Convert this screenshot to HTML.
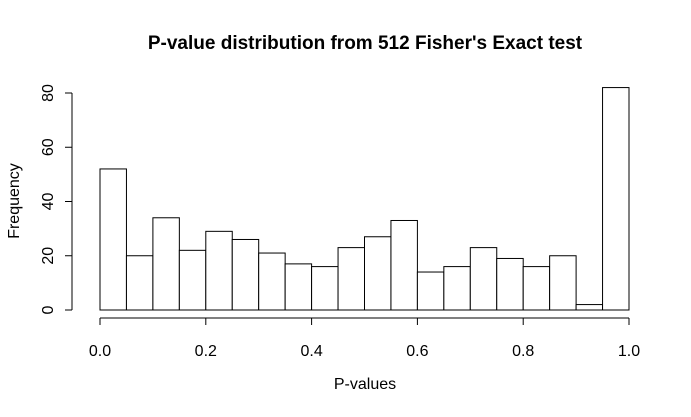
<!DOCTYPE html>
<html><head><meta charset="utf-8"><style>
body{margin:0;background:#fff}
svg{display:block;font-family:"Liberation Sans",Arial,sans-serif}
</style></head><body>
<svg id="chart" width="691" height="417">
<text x="365" y="49" text-anchor="middle" font-size="19" font-weight="bold">P-value distribution from 512 Fisher's Exact test</text>
<text x="365" y="389" text-anchor="middle" font-size="16">P-values</text>
<text transform="translate(19,201) rotate(-90)" text-anchor="middle" font-size="16">Frequency</text>
<g id="bars"></g>
<g id="xaxis"></g>
<g id="yaxis"></g>
</svg>
<script>
const counts = [52,20,34,22,29,26,21,17,16,23,27,33,14,16,23,19,16,20,2,82];
const binStart = 0, binWidth = 0.05;
const xTicks = [0,0.2,0.4,0.6,0.8,1.0];
const xTickLabels = ["0.0","0.2","0.4","0.6","0.8","1.0"];
const yTicks = [0,20,40,60,80];
const yTickLabels = ["0","20","40","60","80"];
const NS="http://www.w3.org/2000/svg";
const X=v=>100+v*529, Y=v=>310-v*(217/80);
function mk(t,a,p){const e=document.createElementNS(NS,t);for(const k in a)e.setAttribute(k,a[k]);p.appendChild(e);return e;}
const bars=document.getElementById('bars');
counts.forEach((c,i)=>{
 const x0=X(binStart+i*binWidth),x1=X(binStart+(i+1)*binWidth);
 const r=mk('rect',{x:x0,y:Y(c),width:x1-x0,height:Y(0)-Y(c),fill:'#fff',stroke:'#000','stroke-width':1},bars);
 
 
});
const xa=document.getElementById('xaxis');
mk('line',{x1:X(0),x2:X(1),y1:318,y2:318,stroke:'#000'},xa);
xTicks.forEach((v,i)=>{
 mk('line',{x1:X(v),x2:X(v),y1:318,y2:325,stroke:'#000'},xa);
 const t=mk('text',{x:X(v),y:356,'text-anchor':'middle','font-size':16},xa);
 t.textContent=xTickLabels[i];
 
 
});
const ya=document.getElementById('yaxis');
mk('line',{x1:72,x2:72,y1:Y(0),y2:Y(80),stroke:'#000'},ya);
yTicks.forEach((v,i)=>{
 mk('line',{x1:65,x2:72,y1:Y(v),y2:Y(v),stroke:'#000'},ya);
 const t=mk('text',{transform:`translate(53,${Y(v)}) rotate(-90)`,'text-anchor':'middle','font-size':16},ya);
 t.textContent=yTickLabels[i];
 
 
});
</script>
</body></html>
